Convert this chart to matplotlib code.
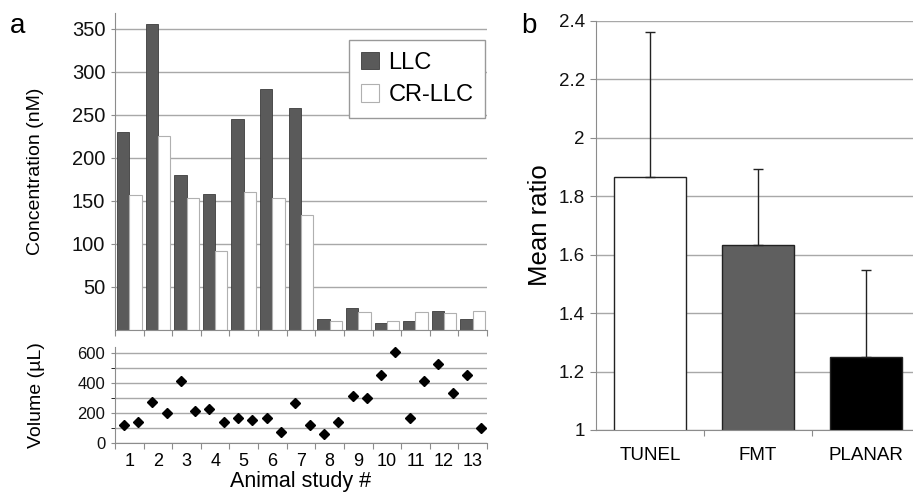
import numpy as np
import matplotlib.pyplot as plt

plt.rcParams['font.family'] = ['Liberation Sans', 'DejaVu Sans']

# panel a data
studies = [str(i) for i in range(1, 14)]
llc = [230, 355, 180, 158, 245, 280, 258, 13, 25, 8, 11, 22, 13]
cr_llc = [157, 225, 153, 92, 160, 153, 134, 11, 21, 11, 21, 20, 22]
volume = [123, 139, 273, 201, 414, 215, 224, 141, 168, 152, 168, 74, 269,
          119, 63, 137, 316, 302, 452, 604, 170, 412, 526, 331, 452, 103]

# panel b data
methods = ["TUNEL", "FMT", "PLANAR"]
mean_ratio = [1.867, 1.634, 1.249]
ratio_err = [0.496, 0.260, 0.299]
method_colors = ["white", "#5f5f5f", "black"]

W, H = 913, 495
grid_c = "#a8a8a8"
spine_c = "#8c8c8c"

fig = plt.figure(figsize=(W / 100, H / 100), dpi=100)
ax1 = fig.add_axes([115 / W, 1 - 330 / H, 372 / W, 317 / H])
ax2 = fig.add_axes([115 / W, 1 - 443 / H, 372 / W, 96 / H])
ax3 = fig.add_axes([596 / W, 1 - 430 / H, 324 / W, 409 / H])


def style(ax):
    for s in ["top", "right"]:
        ax.spines[s].set_visible(False)
    for s in ["left", "bottom"]:
        ax.spines[s].set_color(spine_c)
    ax.tick_params(colors=spine_c, labelcolor="#111111")
    ax.set_axisbelow(True)


# ---- concentration bars
x = np.arange(len(studies))
bw = 0.43
style(ax1)
ax1.bar(x - bw / 2, llc, bw, color="#5a5a5a", edgecolor="#3c3c3c", linewidth=0.6, label="LLC")
ax1.bar(x + bw / 2, cr_llc, bw, color="white", edgecolor="#b0b0b0", linewidth=0.8, label="CR-LLC")
ax1.set_xlim(-0.5, len(studies) - 0.5)
ax1.set_ylim(0, 368)
ax1.set_yticks(range(50, 351, 50))
ax1.tick_params(axis="y", labelsize=14.5, length=3, pad=4)
ax1.set_xticks(np.arange(-0.5, len(studies), 1))
ax1.set_xticklabels([])
ax1.tick_params(axis="x", length=4)
ax1.yaxis.grid(True, color=grid_c, linewidth=1)
ax1.set_ylabel("Concentration (nM)", fontsize=14, labelpad=20)
leg = ax1.legend(loc="upper right", bbox_to_anchor=(0.995, 0.915), fontsize=17,
                 frameon=True, fancybox=False, framealpha=1, edgecolor="#999999",
                 handlelength=0.75, handleheight=0.75, handletextpad=0.4,
                 borderpad=0.5, labelspacing=0.45, borderaxespad=0)
leg.get_frame().set_linewidth(1)

# ---- volume scatter
style(ax2)
xv = np.arange(len(volume)) / 2 - 0.2
ax2.plot(xv, volume, linestyle="none", marker="D", markersize=5.5, color="black")
ax2.set_xlim(-0.5, len(studies) - 0.5)
ax2.set_ylim(0, 640)
ax2.set_yticks([0, 200, 400, 600])
ax2.set_yticks([100, 300, 500], minor=True)
ax2.tick_params(axis="y", which="both", labelsize=12, length=3, pad=4)
ax2.yaxis.grid(True, which="both", color=grid_c, linewidth=1)
ax2.set_xticks(np.arange(-0.5, len(studies), 1))
ax2.set_xticklabels([])
ax2.set_xticks(x, minor=True)
ax2.set_xticklabels(studies, minor=True)
ax2.tick_params(axis="x", which="major", length=4)
ax2.tick_params(axis="x", which="minor", length=0, labelsize=13, pad=7)
ax2.set_ylabel("Volume (\u00b5L)", fontsize=14, labelpad=23)
ax2.set_xlabel("Animal study #", fontsize=15.5, labelpad=1)

# ---- mean ratio bars
style(ax3)
xm = np.arange(len(methods))
ax3.bar(xm, mean_ratio, 0.67, bottom=0, color=method_colors, edgecolor="#222222", linewidth=1)
ax3.errorbar(xm, mean_ratio, yerr=[np.zeros(len(methods)), ratio_err], fmt="none",
             ecolor="#222222", elinewidth=1, capsize=3.5, capthick=1)
ax3.set_xlim(-0.5, len(methods) - 0.5)
ax3.set_ylim(1, 2.4)
ax3.set_yticks([1, 1.2, 1.4, 1.6, 1.8, 2, 2.2, 2.4])
ax3.set_yticklabels(["1", "1.2", "1.4", "1.6", "1.8", "2", "2.2", "2.4"])
ax3.tick_params(axis="y", labelsize=13.5, length=4, pad=4)
ax3.yaxis.grid(True, color=grid_c, linewidth=1)
ax3.set_xticks(np.arange(0.5, len(methods) - 0.5, 1))
ax3.set_xticklabels([])
ax3.set_xticks(xm, minor=True)
ax3.set_xticklabels(methods, minor=True)
ax3.tick_params(axis="x", which="major", length=4)
ax3.tick_params(axis="x", which="minor", length=0, labelsize=13.5, pad=12)
ax3.set_ylabel("Mean ratio", fontsize=18.5, labelpad=5)

fig.text(10 / W, 1 - 33 / H, "a", fontsize=20)
fig.text(521 / W, 1 - 33 / H, "b", fontsize=20)

fig.savefig("out.png", dpi=100)
